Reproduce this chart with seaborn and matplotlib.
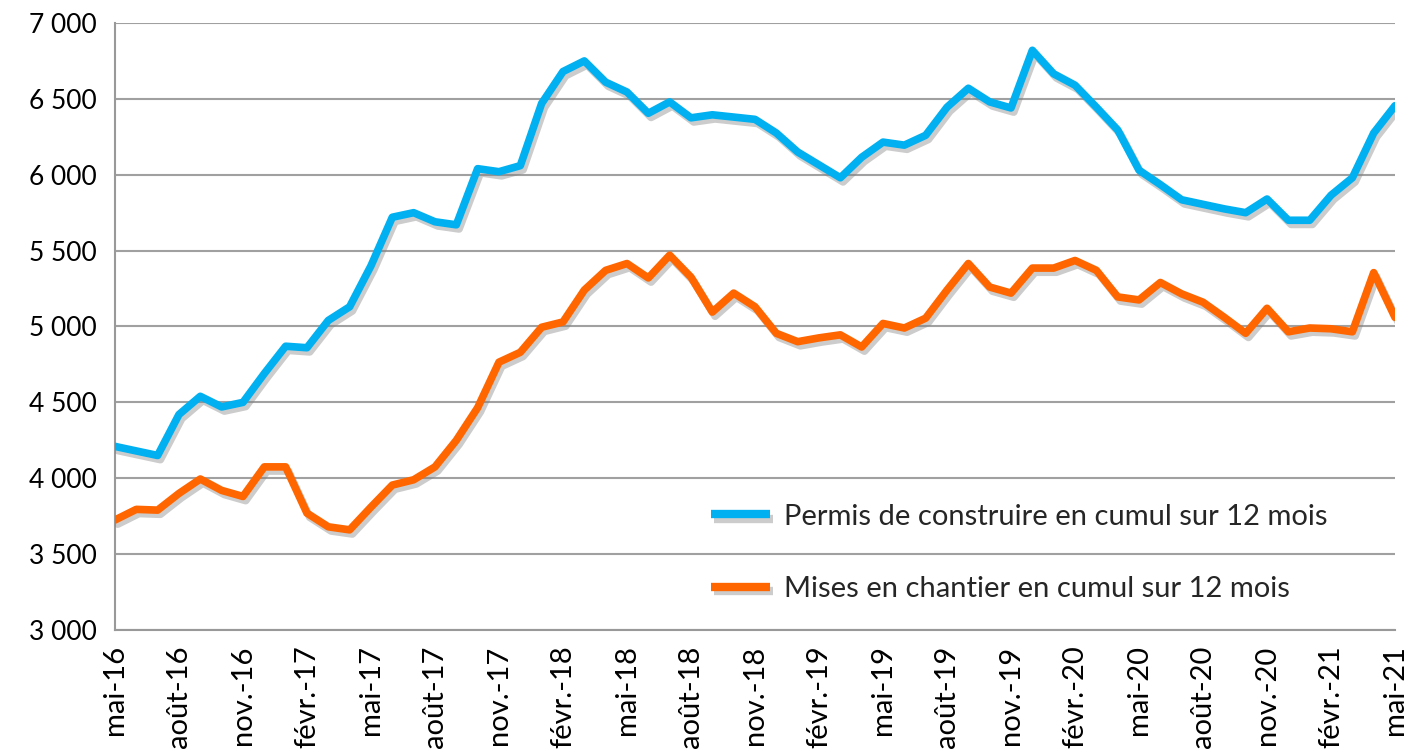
import numpy as np
import pandas as pd
import matplotlib
matplotlib.use("Agg")
import matplotlib.pyplot as plt
import matplotlib.patheffects as pe
import seaborn as sns

# Données (mai-16 -> mai-21, mensuel)
permis = [4210, 4180, 4150, 4420, 4540, 4470, 4500, 4690, 4870, 4860,
          5040, 5130, 5400, 5720, 5750, 5690, 5670, 6040, 6020, 6060,
          6470, 6680, 6750, 6610, 6545, 6405, 6480, 6375, 6395, 6380,
          6365, 6275, 6150, 6065, 5980, 6115, 6215, 6195, 6260, 6445,
          6570, 6480, 6440, 6820, 6665, 6590, 6445, 6295, 6030, 5935,
          5835, 5805, 5775, 5750, 5840, 5700, 5700, 5865, 5980, 6275,
          6455]
mises = [3725, 3795, 3790, 3900, 3995, 3920, 3880, 4075, 4075, 3770,
         3680, 3660, 3810, 3955, 3990, 4075, 4250, 4465, 4765, 4830,
         4995, 5030, 5240, 5370, 5415, 5320, 5470, 5325, 5095, 5220,
         5130, 4955, 4900, 4925, 4945, 4865, 5020, 4990, 5055, 5240,
         5415, 5260, 5220, 5385, 5385, 5435, 5370, 5195, 5175, 5290,
         5215, 5160, 5060, 4955, 5120, 4965, 4990, 4985, 4965, 5355,
         5060]
series = ["Permis de construire en cumul sur 12 mois",
          "Mises en chantier en cumul sur 12 mois"]
couleurs = ["#00B0F0", "#FF6600"]
etiquettes = ["mai-16", "août-16", "nov.-16", "févr.-17", "mai-17", "août-17",
              "nov.-17", "févr.-18", "mai-18", "août-18", "nov.-18", "févr.-19",
              "mai-19", "août-19", "nov.-19", "févr.-20", "mai-20", "août-20",
              "nov.-20", "févr.-21", "mai-21"]
yticks = [3000, 3500, 4000, 4500, 5000, 5500, 6000, 6500, 7000]

n = len(permis)
df = pd.DataFrame({
    "mois": list(range(n)) * 2,
    "valeur": permis + mises,
    "serie": [series[0]] * n + [series[1]] * n,
})

sns.set_style("white")
plt.rcParams["font.family"] = ["Lato", "DejaVu Sans"]

fig = plt.figure(figsize=(14.07, 7.51), dpi=100)
ax = fig.add_axes([0.0817, 0.1611, 0.9098, 0.8083])

ombre = [pe.SimpleLineShadow(offset=(2, -3), shadow_color="#808080", alpha=0.4),
         pe.Normal()]
sns.lineplot(data=df, x="mois", y="valeur", hue="serie", hue_order=series,
             palette=couleurs, lw=5.5, ax=ax, solid_joinstyle="round",
             solid_capstyle="round", path_effects=ombre, zorder=3)

ax.set_xlim(0, n - 1)
ax.set_ylim(3000, 7000)
ax.set_yticks(yticks)
ax.set_yticklabels([f"{v:,}".replace(",", " ") for v in yticks], fontsize=19)
ax.set_xticks(range(0, n, 3))
ax.set_xticklabels(etiquettes, rotation=90, fontsize=21)
ax.set_xlabel("")
ax.set_ylabel("")

ax.grid(axis="y", color="#A0A0A0", lw=1.5)
ax.grid(axis="x", visible=False)
for s in ["top", "right"]:
    ax.spines[s].set_visible(False)
for s in ["left", "bottom"]:
    ax.spines[s].set_color("#999999")
    ax.spines[s].set_linewidth(1.5)
ax.tick_params(axis="both", which="major", length=9, width=1.5, color="#999999",
               direction="out", pad=4, labelcolor="black")
ax.tick_params(axis="x", pad=2)

leg = ax.legend(loc="center left", bbox_to_anchor=(0.466, 0.127), frameon=False,
                fontsize=21, handlelength=2.0, handletextpad=0.5, labelspacing=1.6,
                borderaxespad=0, borderpad=0)
for h in leg.get_lines():
    h.set_solid_capstyle("butt")
    h.set_linewidth(6)

fig.savefig("out.png", dpi=100)
